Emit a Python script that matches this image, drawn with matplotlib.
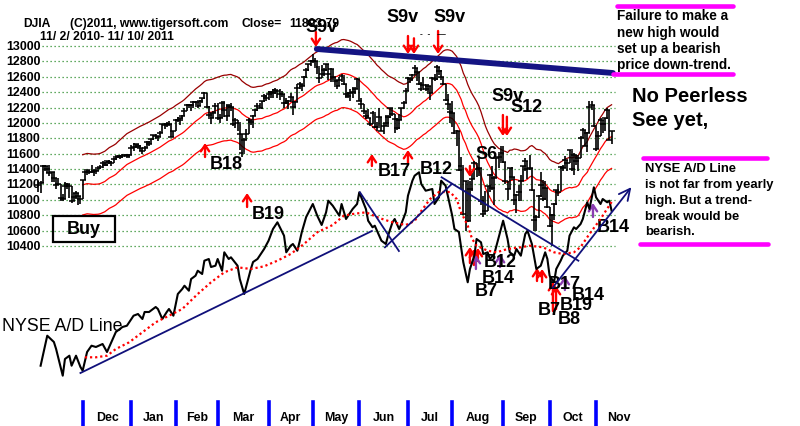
import numpy as np
import pandas as pd
import matplotlib
matplotlib.use("Agg")
import matplotlib.pyplot as plt
from matplotlib.patches import Rectangle
from matplotlib.lines import Line2D
import matplotlib.transforms as mtransforms

plt.rcParams['font.family'] = ['Liberation Sans', 'DejaVu Sans']

# ---------------- DATA ----------------
close = [
    # Nov 2010
    11188, 11215, 11434, 11445, 11406, 11346, 11357, 11283, 11192, 11201, 11023, 11008, 11181, 11204, 11178, 10988, 11036, 11092, 11052, 11006,
    # Dec
    11255, 11362, 11382, 11362, 11359, 11372, 11370, 11410, 11428, 11476, 11457, 11499, 11491, 11478, 11533, 11559, 11573, 11555, 11575, 11585, 11569, 11578,
    # Jan 2011
    11671, 11691, 11722, 11697, 11675, 11638, 11671, 11755, 11732, 11787, 11837, 11825, 11822, 11871, 11980, 11978, 11985, 11989, 11823, 11892,
    # Feb
    12040, 12041, 12062, 12092, 12161, 12234, 12229, 12229, 12273, 12268, 12226, 12288, 12318, 12391, 12212, 12105, 12068, 12130, 12226,
    # Mar
    12058, 12066, 12258, 12170, 12090, 12214, 12213, 11984, 12044, 11993, 11855, 11613, 11775, 11858, 12036, 12018, 12086, 12171, 12220, 12198, 12280, 12350, 12320,
    # Apr
    12377, 12400, 12394, 12426, 12409, 12380, 12382, 12264, 12263, 12285, 12342, 12202, 12266, 12453, 12506, 12480, 12595, 12691, 12763, 12811,
    # May
    12808, 12807, 12724, 12584, 12638, 12684, 12760, 12630, 12696, 12596, 12548, 12479, 12561, 12606, 12512, 12381, 12356, 12394, 12403, 12441, 12570,
    # Jun
    12290, 12248, 12151, 12090, 12070, 11991, 12124, 11952, 11953, 12076, 11898, 11962, 12004, 12080, 12191, 12110, 12050, 11934, 12043, 12188, 12262, 12414,
    # Jul
    12582, 12570, 12626, 12720, 12657, 12505, 12447, 12492, 12437, 12480, 12385, 12587, 12572, 12724, 12681, 12593, 12502, 12303, 12240, 12143,
    # Aug
    12133, 11867, 11897, 11384, 11445, 10810, 11240, 10720, 11144, 11270, 11483, 11406, 11411, 10991, 10818, 10855, 11177, 11320, 11150, 11285, 11540, 11560, 11614,
    # Sep
    11494, 11240, 11140, 11415, 11296, 10992, 11062, 11106, 11247, 11434, 11510, 11402, 11409, 11125, 10734, 10772, 11044, 11191, 11011, 11154, 10913,
    # Oct
    10655, 10809, 10940, 11123, 11103, 11433, 11416, 11519, 11478, 11644, 11397, 11577, 11505, 11541, 11809, 11913, 11706, 11869, 12209, 12231, 11955,
    # Nov 2011
    11658, 11836, 12044, 11983, 12069, 12170, 11781, 11894,
]
high = [
    11245, 11247, 11452, 11452, 11445, 11451, 11358, 11357, 11283, 11290, 11201, 11077, 11236, 11223, 11204, 11178, 11092, 11112, 11092, 11052,
    11260, 11375, 11390, 11392, 11450, 11400, 11400, 11420, 11450, 11500, 11490, 11510, 11515, 11500, 11540, 11570, 11580, 11580, 11590, 11600, 11590, 11590,
    11710, 11740, 11730, 11725, 11710, 11680, 11700, 11760, 11760, 11795, 11845, 11860, 11830, 11900, 11985, 12000, 12010, 12020, 11990, 11900,
    12045, 12075, 12070, 12100, 12200, 12240, 12240, 12250, 12280, 12290, 12270, 12300, 12330, 12400, 12390, 12215, 12130, 12150, 12260,
    12260, 12120, 12280, 12280, 12250, 12240, 12260, 12210, 12070, 12044, 11990, 11850, 11800, 11920, 12070, 12040, 12100, 12180, 12260, 12260, 12290, 12380, 12360,
    12420, 12420, 12440, 12450, 12430, 12440, 12420, 12380, 12320, 12300, 12390, 12340, 12290, 12500, 12530, 12510, 12610, 12720, 12770, 12820,
    12900, 12840, 12810, 12720, 12750, 12720, 12770, 12760, 12720, 12700, 12600, 12560, 12600, 12640, 12600, 12510, 12400, 12440, 12470, 12470, 12580,
    12570, 12320, 12250, 12160, 12180, 12070, 12160, 12120, 12010, 12190, 12076, 12000, 12100, 12100, 12200, 12200, 12110, 12060, 12110, 12200, 12290, 12450,
    12600, 12590, 12640, 12750, 12720, 12660, 12530, 12600, 12510, 12500, 12480, 12600, 12630, 12750, 12730, 12690, 12600, 12500, 12370, 12240,
    12290, 12130, 11905, 11890, 11560, 11430, 11240, 11230, 11240, 11350, 11500, 11480, 11540, 11410, 11050, 11120, 11180, 11330, 11440, 11310, 11540, 11600, 11700,
    11700, 11490, 11240, 11420, 11430, 11300, 11070, 11190, 11320, 11440, 11540, 11510, 11580, 11410, 11125, 10800, 11060, 11360, 11260, 11250, 11150,
    10910, 10810, 10960, 11130, 11200, 11440, 11450, 11570, 11520, 11650, 11640, 11610, 11580, 11580, 11830, 11930, 11910, 11880, 12280, 12290, 12230,
    11950, 11900, 12070, 12040, 12070, 12190, 12170, 11900,
]
low = [
    11101, 11095, 11216, 11381, 11353, 11316, 11232, 11230, 11135, 11193, 10980, 10985, 11008, 11136, 11029, 10963, 10988, 11015, 10930, 10950,
    11010, 11252, 11320, 11330, 11355, 11310, 11330, 11370, 11400, 11420, 11440, 11440, 11460, 11440, 11475, 11520, 11550, 11530, 11550, 11570, 11550, 11550,
    11578, 11640, 11670, 11680, 11630, 11590, 11630, 11680, 11700, 11720, 11780, 11790, 11760, 11820, 11865, 11920, 11950, 11960, 11820, 11820,
    11890, 12010, 11975, 12030, 12090, 12150, 12190, 12150, 12200, 12230, 12200, 12220, 12260, 12310, 12200, 12080, 11985, 12070, 12130,
    12040, 12000, 12070, 12080, 12020, 12090, 12150, 11960, 11930, 11890, 11650, 11560, 11620, 11780, 11860, 11970, 11930, 12090, 12160, 12190, 12180, 12270, 12290,
    12300, 12330, 12330, 12380, 12330, 12300, 12340, 12200, 12240, 12180, 12270, 12100, 12200, 12270, 12440, 12420, 12480, 12580, 12670, 12740,
    12780, 12740, 12630, 12520, 12580, 12610, 12680, 12560, 12530, 12560, 12490, 12440, 12480, 12530, 12490, 12330, 12320, 12290, 12330, 12370, 12440,
    12280, 12180, 12120, 12050, 12060, 11960, 11990, 11930, 11900, 11960, 11890, 11860, 11960, 11950, 12060, 12090, 11870, 11910, 11920, 12040, 12180, 12260,
    12410, 12520, 12540, 12620, 12550, 12490, 12420, 12450, 12420, 12400, 12300, 12390, 12540, 12560, 12620, 12560, 12490, 12290, 12170, 12000,
    11950, 11860, 11700, 11380, 11140, 10800, 10600, 10710, 10720, 11120, 11270, 11300, 11310, 10930, 10780, 10820, 10860, 11100, 11130, 10930, 11290, 11420, 11510,
    11480, 11210, 11000, 11140, 11260, 10930, 10830, 10990, 10990, 11240, 11380, 11270, 11390, 11120, 10600, 10600, 10770, 11040, 10990, 11000, 10900,
    10650, 10400, 10740, 10930, 11050, 11110, 11370, 11420, 11380, 11480, 11380, 11320, 11450, 11370, 11540, 11800, 11700, 11620, 11870, 12170, 11950,
    11640, 11660, 11830, 11870, 11900, 12050, 11780, 11730,
]

# NYSE A/D line (arbitrary units), read at turning points: trading-day index and value
ad_day = [1, 4, 7, 8, 11, 12, 14, 15, 17, 19, 20, 22, 24, 26, 29, 31, 33, 35, 38, 40, 43, 45, 47, 48, 50,
          53, 54, 56, 58, 59, 61, 63, 65, 66, 68, 69, 71, 72, 74, 75, 77, 78, 80, 81, 83, 84, 86, 87, 90, 91,
          93, 94, 96, 97, 99, 102, 104, 106, 108, 111, 112, 114, 115, 117, 118, 119, 121, 124, 126, 128, 130,
          131, 133, 136, 137, 139, 142, 144, 145, 148, 149, 151, 152, 154, 155, 157, 158, 160, 161, 163, 164,
          166, 167, 169, 170, 172, 173, 175, 178, 179, 181, 182, 184, 185, 187, 188, 190, 192, 194, 195, 197,
          198, 200, 201, 203, 204, 206, 209, 210, 212, 213, 215, 216, 218, 220, 221, 223, 225, 227, 229, 230,
          231, 233, 234, 236, 237, 239, 240, 242, 243, 245, 246, 248, 249, 251, 252, 254, 255, 257, 258, 259]
ad_val = [3330, 6330, 5700, 5000, 2330, 4000, 4330, 3330, 4330, 3200, 2830, 4700, 5330, 5200, 5500, 4700, 5700, 6700, 7200, 7330, 8330, 8500, 8000, 8700, 8700,
          9200, 9000, 8000, 8700, 9000, 8330, 10500, 11000, 11330, 10830, 12000, 12330, 12830, 12500, 13830, 14000, 13200, 13330, 14000, 12830, 14670, 14000, 14170, 13330, 12000,
          10500, 11330, 13000, 13700, 14000, 15000, 15830, 17000, 17670, 16330, 14670, 15330, 15500, 14830, 15700, 16670, 18200, 19500, 18330, 17400, 18670,
          19830, 19330, 18330, 19500, 18000, 19000, 19500, 20670, 19000, 17830, 17170, 17330, 16330, 15830, 15500, 16330, 17670, 18000, 17000, 17500,
          18670, 20330, 21830, 22330, 22670, 21500, 20830, 21000, 19500, 20170, 21830, 21330, 20330, 18330, 17000, 16700, 13670, 11670, 13000, 14330,
          16000, 15670, 14500, 14670, 14000, 14500, 17000, 17830, 16000, 14670, 14330, 15000, 14330, 16500, 16830, 15500, 13000, 13330, 14670, 14000,
          12330, 11670, 13000, 13830, 14330, 14830, 16330, 17170, 17000, 17500, 18000, 19670, 19000, 21170, 20170, 19500, 20000, 19670, 19830, 18830]

# A/D line moving average (red dotted)
adma_day = [21, 26, 31, 35, 41, 47, 53, 59, 65, 72, 78, 84, 90, 96, 102, 108, 114, 120, 126, 133, 138, 142, 148,
            154, 160, 166, 170, 173, 177, 181, 186, 189, 191, 194, 196, 198, 203, 207, 212, 218, 222, 228, 233,
            237, 242, 245, 249, 254, 259]
adma_val = [4170, 4170, 4330, 5000, 5670, 6670, 7670, 8330, 9000, 10500, 11670, 12670, 13170, 13000, 13270, 13830, 14500, 15500, 16670, 17400, 18330, 18500, 18670,
            18100, 17670, 17400, 17800, 18800, 20000, 20700, 20700, 20000, 18670, 17330, 16000, 15330, 14830, 14670, 15000, 15170, 15330, 15170, 14670,
            14500, 14670, 15200, 16500, 18000, 19700]

# Trend lines: (day, value) endpoints
price_trend = [(125.8, 12961), (259.6, 12649)]
ad_trends = [
    [(19, 2600), (150.7, 16800)],
    [(145.3, 20670), (162.9, 14800)],
    [(156.6, 15170), (186.8, 21500)],
    [(182.2, 22170), (244, 13830)],
]
ad_arrow_trend = [(231.6, 10900), (268.7, 21400)]

# Month ticks (trading-day index of first session) and labels
month_days = [20, 42, 62, 81, 104, 124, 145, 167, 187, 210, 231, 252]
month_labels = ['Dec', 'Jan', 'Feb', 'Mar', 'Apr', 'May', 'Jun', 'Jul', 'Aug', 'Sep', 'Oct', 'Nov']

price_ticks = list(range(10400, 13001, 200))

# Signal arrows: (day, tip price, tail price, color)
RED = '#ff0000'
PURP = '#8a3cb0'
signal_arrows = [
    (125.4, 12987, 13182, RED), (167.0, 12896, 13130, RED), (169.7, 12896, 13100, RED),
    (180.6, 12896, 13195, RED), (209.9, 11830, 12103, RED), (211.7, 11830, 12080, RED),
    (195.0, 11297, 11440, RED),
    (75.3, 11739, 11557, RED), (94.3, 11089, 10907, RED), (150.7, 11596, 11440, RED),
    (167.0, 11648, 11466, RED),
    (195.0, 10387, 10179, RED), (196.8, 10361, 10153, RED), (198.6, 10374, 10205, RED),
    (225.3, 10114, 9945, RED), (227.6, 10101, 9932, RED),
    (232.5, 9932, 9555, RED), (233.9, 9880, 9581, RED),
    (197.7, 10283, 10101, PURP), (208.6, 10296, 10127, PURP),
    (237.9, 10010, 9828, PURP), (250.6, 10959, 10777, PURP),
]
# Signal labels: (day, price, text)
signal_labels = [
    (120.5, 13255, 'S9v'), (157.5, 13390, 'S9v'), (178.3, 13390, 'S9v'),
    (204.5, 12350, 'S9v'), (213.1, 12207, 'S12'), (197.7, 11596, 'S6'),
    (77.6, 11466, 'B18'), (96.5, 10816, 'B19'), (153.5, 11375, 'B17'), (172.4, 11401, 'B12'),
    (201.4, 10192, 'B12'), (200.5, 9984, 'B14'), (197.3, 9815, 'B7'),
    (230.3, 9906, 'B17'), (241.1, 9763, 'B14'), (235.7, 9633, 'B19'),
    (225.8, 9568, 'B7'), (234.8, 9451, 'B8'), (252.4, 10647, 'B14'),
]

# ---------------- FIGURE ----------------
W, H = 800, 427
fig = plt.figure(figsize=(W / 100, H / 100), dpi=100)
fig.patch.set_facecolor('white')

def fx(px):
    return px / W

def fy(py):
    return 1 - py / H

px_per_day = 2.213
x0_px = 38.4
xlim = (-x0_px / px_per_day, (W - x0_px) / px_per_day)

ax = fig.add_axes([0, 0, 1, 1])
ax.set_xlim(*xlim)
ax.set_ylim(8060, 13611)
ax.axis('off')

ax2 = fig.add_axes([0, 0, 1, 1])
ax2.set_xlim(*xlim)
ax2.set_ylim(-2700, 40000)
ax2.axis('off')
ax2.patch.set_alpha(0)

days = np.arange(len(close))
c = np.array(close, float)
hi = np.array(high, float)
lo = np.array(low, float)

# grid lines + y labels
blend = mtransforms.blended_transform_factory(ax.transAxes, ax.transData)
for v in price_ticks:
    ax.axhline(v, xmin=fx(42), xmax=fx(615), color='#2f8f2f', lw=0.9, ls=(0, (1, 2.2)), zorder=1)
    ax.text(fx(6), v, f'{v}', transform=blend, ha='left', va='center',
            fontsize=8.9, fontweight='bold', color='black')

# bands (21-day MA and +-3.5%)
ma = pd.Series(c).rolling(21).mean().to_numpy()
ax.plot(days, ma * 1.035, color='#990000', lw=0.9, zorder=2)
ax.plot(days, ma, color='#ff0000', lw=0.9, zorder=2)
ax.plot(days, ma * 0.965, color='#ff0000', lw=0.9, zorder=2)

# price bars
ax.vlines(days, lo, hi, color='black', lw=1.2, zorder=3)
ax.plot(days, c, ls='none', marker='_', ms=4.2, mew=1.1, color='black', zorder=3)

# price downtrend line
ax.plot([p[0] for p in price_trend], [p[1] for p in price_trend],
        color='#141483', lw=4.2, solid_capstyle='round', zorder=4)

# A/D line
ax2.plot(ad_day, ad_val, color='black', lw=1.5, zorder=3)
ax2.plot(adma_day, adma_val, color='#ff0000', lw=1.6, ls=(0, (1, 1.3)), zorder=3)
for seg in ad_trends:
    ax2.plot([p[0] for p in seg], [p[1] for p in seg], color='#10107a', lw=1.3, zorder=4)
ax2.annotate('', xy=ad_arrow_trend[1], xytext=ad_arrow_trend[0],
             arrowprops=dict(arrowstyle='->,head_width=0.4,head_length=0.8',
                             color='#10107a', lw=1.3), zorder=4)

# month axis
for d in month_days:
    ax.axvline(d, ymin=0, ymax=fy(403), color='#0000ff', lw=2.6)
mids = [(month_days[i] + month_days[i + 1]) / 2 for i in range(len(month_days) - 1)]
mids.append(month_days[-1] + 10.5)
tb = mtransforms.blended_transform_factory(ax.transData, ax.transAxes)
for m, lab in zip(mids, month_labels):
    ax.text(m, fy(418), lab, transform=tb, ha='center', va='center',
            fontsize=8.9, fontweight='bold')

# signals
for d, tip, tail, col in signal_arrows:
    ax.annotate('', xy=(d, tip), xytext=(d, tail),
                arrowprops=dict(arrowstyle='->,head_width=0.3,head_length=0.45',
                                color=col, lw=1.7, shrinkA=0, shrinkB=0), zorder=6)
for d, p, t in signal_labels:
    ax.text(d, p, t, ha='left', va='center', fontsize=13, fontweight='bold', zorder=7)

# title texts
fig.text(fx(23), fy(24), 'DJIA', fontsize=8.7, fontweight='bold', va='center')
fig.text(fx(70), fy(24), '(C)2011, www.tigersoft.com', fontsize=8.7, fontweight='bold', va='center')
fig.text(fx(242), fy(24), 'Close=', fontsize=8.7, fontweight='bold', va='center')
fig.text(fx(289), fy(24), '11893.79', fontsize=8.7, fontweight='bold', va='center')
fig.text(fx(40), fy(36.5), '11/ 2/ 2010- 11/ 10/ 2011', fontsize=8.7, fontweight='bold', va='center')
fig.text(fx(420), fy(34), '-  -   \u2014', fontsize=6, fontweight='bold', va='center')

# Buy box
fig.patches.append(Rectangle((fx(53), fy(243)), fx(115) - fx(53), fy(217) - fy(243),
                             transform=fig.transFigure, fill=False, ec='black', lw=1.6))
fig.text(fx(84), fy(230), 'Buy', fontsize=13, fontweight='bold', ha='center', va='center')

fig.text(fx(2), fy(327), 'NYSE A/D Line', fontsize=12.8, ha='left', va='center')

fig.text(fx(632), fy(97), 'No Peerless', fontsize=14.5, fontweight='bold', va='center')
fig.text(fx(632), fy(120), 'See yet,', fontsize=14.5, fontweight='bold', va='center')

box1 = ['Failure to make a', 'new high would', 'set up a bearish', 'price down-trend.']
for i, line in enumerate(box1):
    fig.text(fx(617), fy(16.5 + 16 * i), line, fontsize=9.8, fontweight='bold', va='center')
box2 = ['NYSE A/D Line', 'is not far from yearly', 'high. But a trend-', 'break would be', 'bearish.']
for i, line in enumerate(box2):
    fig.text(fx(645), fy(169.5 + 15.7 * i), line, fontsize=9.4, fontweight='bold', va='center')

for (xa, xb, yy) in [(617, 733, 6.5), (613, 733, 75), (643, 767, 158.5), (640, 768, 245)]:
    fig.add_artist(Line2D([fx(xa), fx(xb)], [fy(yy), fy(yy)], transform=fig.transFigure,
                          color='#ff00ff', lw=3.3, solid_capstyle='round'))

fig.savefig('out.png', dpi=100, facecolor='white')
